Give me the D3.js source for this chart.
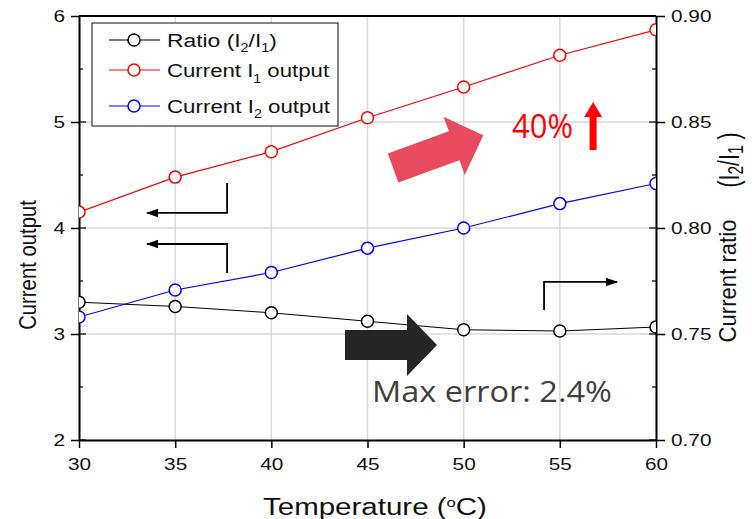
<!DOCTYPE html>
<html><head><meta charset="utf-8">
<script src="https://cdn.jsdelivr.net/npm/d3@7"></script>
<style>body{margin:0;background:#fff}svg text{font-family:"Liberation Sans",Arial,sans-serif}</style>
</head><body><svg id="chart" width="752" height="519"></svg>
<script>
// Temperature sweep: two output currents (left axis) and their ratio (right axis)
const temperatures = [30, 35, 40, 45, 50, 55, 60];
const currentI1 = [4.15, 4.48, 4.72, 5.04, 5.33, 5.63, 5.87];
const currentI2 = [3.16, 3.415, 3.58, 3.81, 4.00, 4.23, 4.42];
const ratioI2I1 = [0.765, 0.763, 0.760, 0.756, 0.752, 0.7514, 0.7533];
const xTicks = [30, 35, 40, 45, 50, 55, 60];
const leftTicks = [2, 3, 4, 5, 6];
const rightTicks = [0.70, 0.75, 0.80, 0.85, 0.90];

const svg = d3.select("#chart");
const L = 79, R = 656, T = 16, B = 440;

const x = d3.scaleLinear().domain([30, 60]).range([L, R]);
const yL = d3.scaleLinear().domain([2, 6]).range([B, T]);
const yR = d3.scaleLinear().domain([0.70, 0.90]).range([B, T]);

// widen a text horizontally around its own x anchor
function stretchX(sel, k) {
  sel.each(function () {
    const a = +this.getAttribute("x") || 0;
    this.setAttribute("transform", `translate(${a},0) scale(${k},1) translate(${-a},0)`);
  });
}
function fitWidth(sel, w) {
  sel.each(function () { stretchX(d3.select(this), w / this.getBBox().width); });
}

// grid
const grid = svg.append("g").attr("stroke", "#d9d9d9").attr("stroke-width", 1.5);
xTicks.slice(1, -1).forEach(t => grid.append("line").attr("x1", x(t)).attr("x2", x(t)).attr("y1", T).attr("y2", B));
leftTicks.slice(1, -1).forEach(t => grid.append("line").attr("x1", L).attr("x2", R).attr("y1", yL(t)).attr("y2", yL(t)));

// axes
function styleAxis(g) {
  g.select(".domain").attr("stroke", "#000").attr("stroke-width", 2);
  g.selectAll(".tick line").attr("stroke", "#000").attr("stroke-width", 1.5);
  g.selectAll(".tick text").attr("font-size", 16).attr("fill", "#111")
    .style("font-family", '"Liberation Sans", Arial, sans-serif')
    .call(stretchX, 1.3);
}
svg.append("g").attr("transform", `translate(0,${B})`)
  .call(d3.axisBottom(x).tickValues(xTicks).tickSize(8).tickSizeOuter(0).tickPadding(11))
  .call(styleAxis);
svg.append("g").attr("transform", `translate(${L},0)`)
  .call(d3.axisLeft(yL).tickValues(leftTicks).tickFormat(d3.format("d")).tickSize(8).tickSizeOuter(0).tickPadding(6))
  .call(styleAxis);
svg.append("g").attr("transform", `translate(${R},0)`)
  .call(d3.axisRight(yR).tickValues(rightTicks).tickFormat(d3.format(".2f")).tickSize(9).tickSizeOuter(0).tickPadding(6))
  .call(styleAxis);
// top frame
svg.append("line").attr("x1", L).attr("x2", R).attr("y1", T).attr("y2", T).attr("stroke", "#000").attr("stroke-width", 2);
// inner ticks: minor at half units, majors crossing the axis
const inner = svg.append("g").attr("stroke", "#000").attr("stroke-width", 1.2);
[2.5, 3.5, 4.5, 5.5].forEach(v => {
  inner.append("line").attr("x1", L).attr("x2", L + 4).attr("y1", yL(v)).attr("y2", yL(v));
  inner.append("line").attr("x1", R).attr("x2", R - 4).attr("y1", yL(v)).attr("y2", yL(v));
});
leftTicks.forEach(v => {
  inner.append("line").attr("x1", L).attr("x2", L + 7).attr("y1", yL(v)).attr("y2", yL(v));
  inner.append("line").attr("x1", R).attr("x2", R - 7).attr("y1", yL(v)).attr("y2", yL(v));
});

// series
const series = [
  { vals: ratioI2I1, y: yR, color: "#000", width: 1 },
  { vals: currentI1, y: yL, color: "#ff0000", width: 1.2 },
  { vals: currentI2, y: yL, color: "#0000ff", width: 1.2 }
];
svg.append("clipPath").attr("id", "plotclip").append("rect")
  .attr("x", L).attr("y", T - 1).attr("width", R - L).attr("height", B - T + 2);
series.forEach(s => {
  const pts = temperatures.map((t, i) => [t, s.vals[i]]);
  const g = svg.append("g").attr("clip-path", "url(#plotclip)");
  g.append("path").datum(pts)
    .attr("d", d3.line().x(d => x(d[0])).y(d => s.y(d[1])))
    .attr("fill", "none").attr("stroke", s.color).attr("stroke-width", s.width);
  g.selectAll("circle").data(pts).join("circle")
    .attr("cx", d => x(d[0])).attr("cy", d => s.y(d[1])).attr("r", 6)
    .attr("fill", "#fff").attr("stroke", s.color).attr("stroke-width", 1.5);
});

// legend
const lg = svg.append("g");
lg.append("rect").attr("x", 92).attr("y", 23).attr("width", 246).attr("height", 103)
  .attr("fill", "#fff").attr("stroke", "#333").attr("stroke-width", 1.2);
const legendRows = [
  { color: "#000", y: 40, w: 110, parts: [["Ratio (I", 0], ["2", 1], ["/I", 0], ["1", 1], [")", 0]] },
  { color: "#ff0000", y: 70, w: 163, parts: [["Current I", 0], ["1", 1], [" output", 0]] },
  { color: "#0000ff", y: 106, w: 164, parts: [["Current I", 0], ["2", 1], [" output", 0]] }
];
legendRows.forEach(r => {
  lg.append("line").attr("x1", 109).attr("x2", 160).attr("y1", r.y).attr("y2", r.y)
    .attr("stroke", r.color).attr("stroke-width", 1.2);
  lg.append("circle").attr("cx", 134).attr("cy", r.y).attr("r", 6)
    .attr("fill", "#fff").attr("stroke", r.color).attr("stroke-width", 1.5);
  const t = lg.append("text").attr("x", 167).attr("y", r.y + 7).attr("font-size", 19).attr("fill", "#111");
  r.parts.forEach(([s, sub]) => {
    const ts = t.append("tspan").text(s);
    if (sub) ts.attr("font-size", 12).attr("baseline-shift", "-45%");
  });
  fitWidth(t, r.w);
});

// axis titles
const xt = svg.append("text").attr("x", 375).attr("y", 515).attr("text-anchor", "middle").attr("font-size", 23).attr("fill", "#111")
  .call(t => { t.append("tspan").text("Temperature ("); t.append("tspan").text("o").attr("font-size", 13).attr("baseline-shift", "60%"); t.append("tspan").text("C)"); });
fitWidth(xt, 224);

function verticalTitle(cx, cy, len, size, thick, build) {
  const g = svg.append("g");
  const t = g.append("text").attr("text-anchor", "middle").attr("dominant-baseline", "central")
    .attr("font-size", size).attr("fill", "#111").call(build);
  const k = len / t.node().getBBox().width;
  g.attr("transform", `translate(${cx},${cy}) rotate(-90) scale(${k},${thick})`);
}
verticalTitle(28, 265, 130, 17, 1.45, t => t.text("Current output"));
verticalTitle(728, 281, 123, 17, 1.4, t => t.text("Current ratio"));
verticalTitle(729, 160, 55, 19, 1.6, t => {
  t.append("tspan").text("(I"); t.append("tspan").text("2").attr("font-size", 14).attr("baseline-shift", "-30%");
  t.append("tspan").text("/I"); t.append("tspan").text("1").attr("font-size", 14).attr("baseline-shift", "-30%");
  t.append("tspan").text(" )");
});

// annotations
const ann = svg.append("g");
svg.append("defs").append("marker").attr("id", "head").attr("viewBox", "0 0 10 10").attr("refX", 9).attr("refY", 5)
  .attr("markerWidth", 7).attr("markerHeight", 7).attr("orient", "auto-start-reverse")
  .append("path").attr("d", "M0,1.5 L10,5 L0,8.5 Z").attr("fill", "#000");
function elbow(pts) {
  ann.append("path").attr("d", d3.line().x(d => x(d[0])).y(d => yL(d[1]))(pts)).attr("fill", "none").attr("stroke", "#000")
    .attr("stroke-width", 1.8).attr("marker-end", "url(#head)");
}
// pointers to the axis each curve belongs to
elbow([[37.70, 4.425], [37.70, 4.142], [33.54, 4.142]]);
elbow([[37.70, 3.575], [37.70, 3.849], [33.54, 3.849]]);
elbow([[54.18, 3.226], [54.18, 3.491], [57.97, 3.491]]);

// block arrow along +x, tail centre at origin
function blockArrow(len, body, head, headLen) {
  const b = body / 2, h = head / 2;
  return `M0,${-b} L${len - headLen},${-b} L${len - headLen},${-h} L${len},0 L${len - headLen},${h} L${len - headLen},${b} L0,${b} Z`;
}
ann.append("path").attr("d", blockArrow(92, 30, 62, 30))
  .attr("transform", `translate(${x(43.83)},${yL(2.896)})`).attr("fill", "#262626");
ann.append("path").attr("d", blockArrow(96, 31, 62, 31))
  .attr("transform", `translate(${x(46.33)},${yL(4.566)}) rotate(-20)`).attr("fill", "#e84a5f");
ann.append("path").attr("d", blockArrow(48, 7, 18, 15))
  .attr("transform", `translate(${x(56.73)},${yL(4.736)}) rotate(-90)`).attr("fill", "#ff0000");

const pct = ann.append("text").attr("x", 512).attr("y", 138).attr("font-size", 33).attr("fill", "#ff0000")
  .style("font-family", '"Open Sans", sans-serif').text("40%");
fitWidth(pct, 61);
const err = ann.append("text").attr("x", 372).attr("y", 402).attr("font-size", 30).attr("fill", "#404040")
  .style("font-family", '"Open Sans", sans-serif').text("Max error: 2.4%");
fitWidth(err, 240);
</script></body></html>
